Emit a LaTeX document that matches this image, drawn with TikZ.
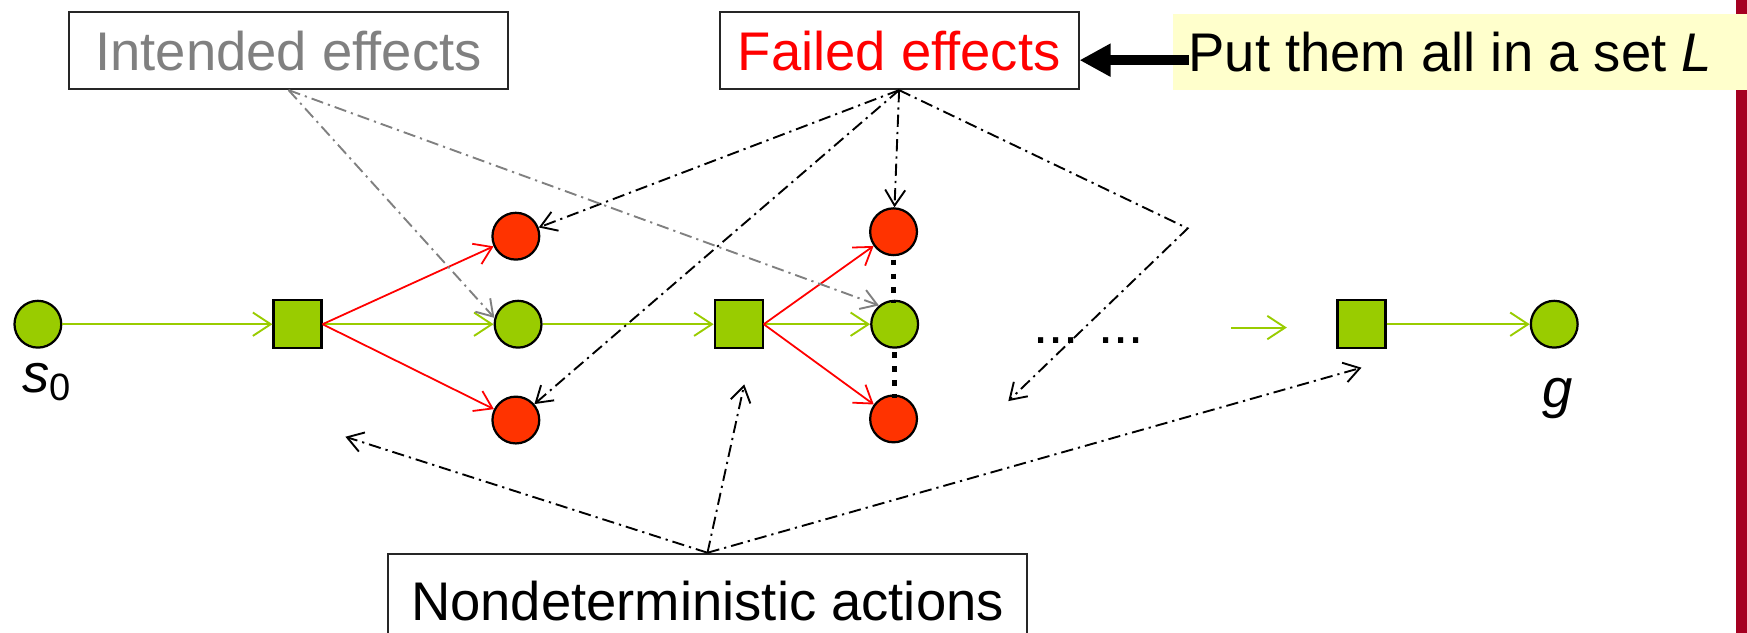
\documentclass[tikz,border=0pt]{standalone}
\usepackage{fontspec}
\setmainfont{Liberation Sans}
\usetikzlibrary{arrows.meta}
\definecolor{ngreen}{HTML}{99CC00}
\definecolor{nred}{HTML}{FF3300}
\definecolor{lred}{HTML}{FF0000}
\definecolor{nyellow}{HTML}{FFFFCC}
\definecolor{barred}{HTML}{A50021}
\definecolor{igray}{HTML}{808080}
\begin{document}
\begin{tikzpicture}[x=0.1mm,y=-0.1mm,
  every node/.style={font=\fontsize{13.9pt}{16pt}\selectfont},
  state/.style={circle, draw=black, line width=0.2mm, minimum size=4.2mm, inner sep=0pt},
  gstate/.style={state, fill=ngreen},
  rstate/.style={state, fill=nred},
  actbox/.style={rectangle, draw=black, line width=0.2mm, fill=ngreen, minimum size=4.3mm, inner sep=0pt},
  lbox/.style={rectangle, draw=black!85, line width=0.18mm, inner sep=0pt, text height=10pt, text depth=0pt},
  garrow/.style={draw=ngreen, line width=0.17mm, -{Straight Barb[length=1.6mm,width=2.1mm,line width=0.17mm]}},
  rarrow/.style={draw=lred, line width=0.16mm, -{Straight Barb[length=1.5mm,width=2mm,line width=0.16mm]}},
  ddash/.style={line width=0.17mm, dash pattern=on 1.1mm off 0.45mm on 0.2mm off 0.45mm, -{Straight Barb[length=1.4mm,width=1.8mm,line width=0.17mm]}},
  vdots/.style={line width=0.5mm, dash pattern=on 0.5mm off 0.75mm}
]
\useasboundingbox (0,0) rectangle (1568,568);
\clip (0,0) rectangle (1568,568);

% right bar and yellow note
\fill[barred] (1558,0) rectangle (1568,568);
\node[fill=nyellow, anchor=north west, minimum width=53mm, minimum height=6.8mm, inner sep=0pt] (putbox) at (1052,12) {};
\node[anchor=west, inner sep=0pt, text height=10pt, text depth=0pt] (put) at (1066,47) {Put them all in a set \textit{L}};

% label boxes
\node[lbox, minimum width=39.4mm, minimum height=6.9mm, text=igray] (int) at (259,45.5) {Intended effects};
\node[lbox, minimum width=32.2mm, minimum height=6.9mm, text=lred] (fail) at (807,45.5) {Failed effects};
\node[lbox, minimum width=57.4mm, minimum height=8.5mm] (nd) at (635,539.5) {Nondeterministic actions};

\coordinate (putstart) at (1067,54);
\draw[line width=0.85mm, -{Triangle[length=2.8mm,width=2.8mm]}] (putstart) -- (fail.east |- putstart);

% states and actions
\node[gstate] (s0) at (34,291) {};
\node[actbox] (a1) at (267,291) {};
\node[gstate] (g1) at (465,291) {};
\node[rstate] (r1t) at (463,212) {};
\node[rstate] (r1b) at (463,377) {};
\node[actbox] (a2) at (663,291) {};
\node[gstate] (g2) at (803,291) {};
\node[rstate] (r2t) at (802,208) {};
\node[rstate] (r2b) at (802,376) {};
\node[actbox] (a3) at (1222,291) {};
\node[gstate] (goal) at (1395,291) {};

\node[anchor=base, inner sep=0pt] (s0lab) at (43,352) {\textit{s}\textsubscript{0}};
\node[anchor=base, inner sep=0pt] (glab) at (1398,366) {\textit{g}};
\node[anchor=base, inner sep=0pt] (dots) at (977,308) {... ...};

% green transitions
\draw[garrow] (s0) -- (a1);
\draw[garrow] (a1) -- (g1);
\draw[garrow] (g1) -- (a2);
\draw[garrow] (a2) -- (g2);
\coordinate (f1) at (1105,294);
\coordinate (f2) at (1155,294);
\draw[garrow] (f1) -- (f2);
\draw[garrow] (a3) -- (goal);

% red failed transitions
\draw[rarrow] (a1.east) -- (r1t);
\draw[rarrow] (a1.east) -- (r1b);
\draw[rarrow] (a2.east) -- (r2t);
\draw[rarrow] (a2.east) -- (r2b);

% vertical dots
\draw[vdots] (r2t.south) ++(0,3) -- ([yshift=-0.3mm]g2.north -| r2t.south);
\draw[vdots] (g2.south) ++(0,3) -- ([yshift=-0.3mm]r2b.north -| g2.south);

% failed effects pointers
\draw[ddash] (fail.south) -- (r1t);
\draw[ddash] (fail.south) -- (r1b);
\draw[ddash] (fail.south) -- (r2t);
\coordinate (bend) at (1066,205);
\coordinate (dotsarr) at (905,360);
\draw[ddash] (fail.south) -- (bend) -- (dotsarr);

% intended effects pointers
\draw[ddash, draw=igray] (int.south) -- (g1.165);
\draw[ddash, draw=igray] (int.south) -- (g2.130);

% nondeterministic actions pointers
\coordinate (na) at (310,392);
\coordinate (nb) at (668,345);
\coordinate (nc) at (1222,330);
\draw[ddash] (nd.north) -- (na);
\draw[ddash] (nd.north) -- (nb);
\draw[ddash] (nd.north) -- (nc);
\end{tikzpicture}
\end{document}
